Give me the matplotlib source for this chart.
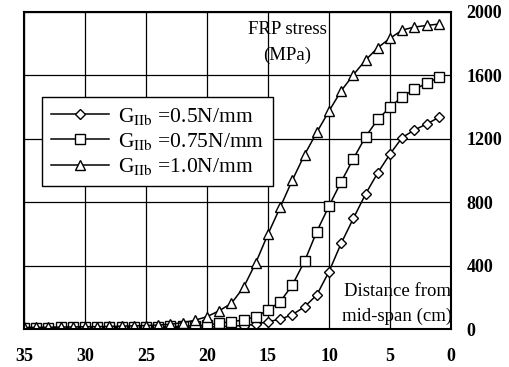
import matplotlib
matplotlib.use("Agg")
import matplotlib.pyplot as plt

plt.rcParams['font.family'] = ['Liberation Serif', 'DejaVu Serif']
plt.rcParams['mathtext.fontset'] = 'stix'

distance_cm = list(range(35, 0, -1))  # 35 ... 1

# values listed for cm 1..35, reversed below to match distance_cm
g05_cm1_to_35 = [1335, 1293, 1256, 1208, 1104, 986, 852, 698, 541, 362,
                 215, 140, 91, 61, 47, 29, 22, 18, 15, 13,
                 12, 11, 10, 10, 9, 9, 9, 9, 8, 8,
                 8, 8, 8, 8, 8]
g075_cm1_to_35 = [1588, 1550, 1512, 1466, 1399, 1323, 1213, 1075, 929, 776,
                  615, 428, 278, 172, 120, 78, 57, 46, 36, 25,
                  20, 18, 16, 15, 14, 13, 12, 12, 11, 11,
                  10, 10, 9, 9, 8]
g10_cm1_to_35 = [1924, 1915, 1905, 1886, 1834, 1775, 1697, 1604, 1503, 1375,
                 1241, 1100, 940, 768, 599, 418, 263, 162, 115, 78,
                 55, 40, 30, 25, 22, 20, 18, 16, 15, 14,
                 13, 12, 11, 10, 10]

stress_g05 = g05_cm1_to_35[::-1]
stress_g075 = g075_cm1_to_35[::-1]
stress_g10 = g10_cm1_to_35[::-1]

labels = [r"G$_{\mathrm{IIb}}$ =0.5N/mm",
          r"G$_{\mathrm{IIb}}$ =0.75N/mm",
          r"G$_{\mathrm{IIb}}$ =1.0N/mm"]

x_ticks = [35, 30, 25, 20, 15, 10, 5, 0]
y_ticks = [0, 400, 800, 1200, 1600, 2000]

fig = plt.figure(figsize=(5.09, 3.67), dpi=100)
ax = fig.add_axes([24/509, 1-329/367, (451-24)/509, (329-12)/367])

common = dict(color='black', lw=1.1, markerfacecolor='white',
              markeredgecolor='black', markeredgewidth=1.0)
ax.plot(distance_cm, stress_g05, marker='D', markersize=5.5, label=labels[0], **common)
ax.plot(distance_cm, stress_g075, marker='s', markersize=6.5, label=labels[1], **common)
ax.plot(distance_cm, stress_g10, marker='^', markersize=7.5, label=labels[2], **common)

ax.set_xlim(35, 0)
ax.set_ylim(0, 2000)
ax.set_xticks(x_ticks)
ax.set_yticks(y_ticks)
ax.yaxis.tick_right()
ax.tick_params(length=0, labelsize=13)
ax.tick_params(axis='y', pad=11)
ax.tick_params(axis='x', pad=14)
for t in ax.get_xticklabels() + ax.get_yticklabels():
    t.set_fontweight('bold')
ax.grid(True, color='black', lw=0.9)
ax.set_axisbelow(True)
for s in ax.spines.values():
    s.set_linewidth(1.5)

fig.text(287/509, 1-30/367, "FRP stress", fontsize=13.5, ha='center', va='center')
fig.text(287/509, 1-55/367, "(MPa)", fontsize=13.5, ha='center', va='center')
fig.text(397/509, 1-291/367, "Distance from", fontsize=13.5, ha='center', va='center')
fig.text(397/509, 1-316/367, "mid-span (cm)", fontsize=13.5, ha='center', va='center')

leg = ax.legend(loc='upper left', bbox_to_anchor=((42-24)/427, (329-97)/317),
                fontsize=15.5, frameon=True, fancybox=False, edgecolor='black',
                framealpha=1, handlelength=2.7, borderpad=0.4, labelspacing=0.2,
                handletextpad=0.45, borderaxespad=0)
leg.get_frame().set_linewidth(1.0)

fig.savefig("out.png", dpi=100)
